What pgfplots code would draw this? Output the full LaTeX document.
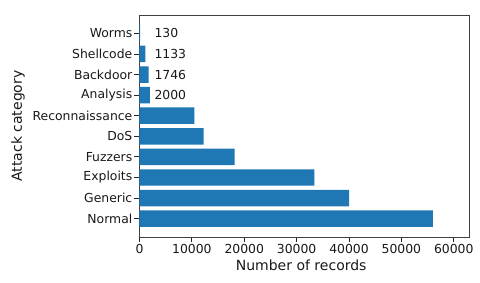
\documentclass[border=0pt]{standalone}
\usepackage{pgfplots}
\pgfplotsset{compat=1.18}
\usepackage{fontspec}
\setmainfont{DejaVu Sans}
\definecolor{mplblue}{HTML}{1F77B4}
\begin{document}
\begin{tikzpicture}[x=1pt,y=1pt]
\useasboundingbox (-139.5,-45) rectangle (340.5,237);
\begin{axis}[
  scale only axis,
  width=330pt, height=222pt,
  xbar, bar width=0.8,
  xmin=0, xmax=63000,
  ymin=-0.89, ymax=9.89,
  xtick={0,10000,20000,30000,40000,50000,60000},
  scaled x ticks=false,
  /pgf/number format/.cd, 1000 sep={}, assume math mode=true,
  /pgfplots/.cd,
  ytick={0,1,2,3,4,5,6,7,8,9},
  yticklabels={Normal,Generic,Exploits,Fuzzers,DoS,Reconnaissance,Analysis,Backdoor,Shellcode,Worms},
  tick align=outside,
  xtick pos=bottom, ytick pos=left,
  major tick length=5pt,
  tick style={black!85, line width=0.8pt},
  axis line style={black!75, line width=0.8pt},
  ticklabel style={font=\fontsize{12.4}{14}\selectfont, text=black!90},
  yticklabel style={inner sep=2pt},
  xticklabel style={inner sep=2.5pt},
  xlabel={Number of records},
  ylabel={Attack category},
  label style={font=\fontsize{14}{16}\selectfont, text=black!90},
  xlabel style={at={(axis description cs:0.49,-0.126)}, anchor=center},
  ylabel style={at={(axis description cs:-0.368,0.5)}, anchor=center, rotate=0},
  clip=false,
]
\addplot[fill=mplblue, draw=none] coordinates {
  (56000,0) (40000,1) (33393,2) (18184,3) (12264,4) (10491,5) (2000,6) (1746,7) (1133,8) (130,9)
};
\node[anchor=west, inner sep=0pt, font=\fontsize{12.4}{14}\selectfont, text=black!90] at (axis cs:2830,9) {130};
\node[anchor=west, inner sep=0pt, font=\fontsize{12.4}{14}\selectfont, text=black!90] at (axis cs:2830,8) {1133};
\node[anchor=west, inner sep=0pt, font=\fontsize{12.4}{14}\selectfont, text=black!90] at (axis cs:2830,7) {1746};
\node[anchor=west, inner sep=0pt, font=\fontsize{12.4}{14}\selectfont, text=black!90] at (axis cs:2830,6) {2000};
\end{axis}
\end{tikzpicture}
\end{document}
